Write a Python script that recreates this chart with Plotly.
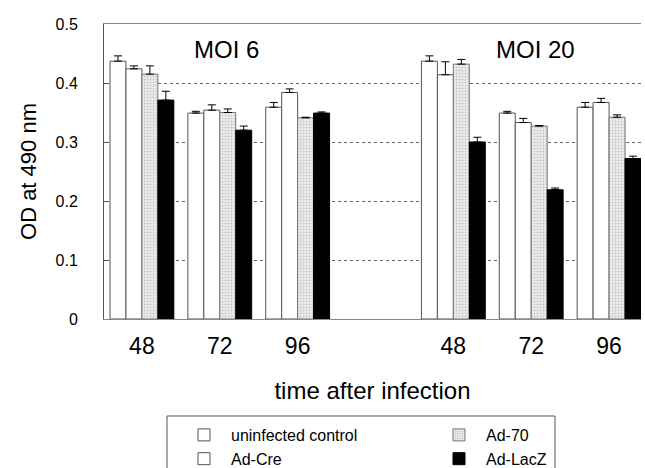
import plotly.graph_objects as go

# Category slots: MOI 6 at 48/72/96 h, then a blank slot, MOI 20 at 48/72/96 h
x_pos = [0, 1, 2, 4, 5, 6]
tick_labels = ["48", "72", "96", "48", "72", "96"]

series_names = ["uninfected control", "Ad-Cre", "Ad-70", "Ad-LacZ"]
uninfected = [0.437, 0.349, 0.359, 0.437, 0.349, 0.359]
ad_cre     = [0.424, 0.354, 0.384, 0.414, 0.333, 0.367]
ad_70      = [0.415, 0.350, 0.341, 0.432, 0.327, 0.342]
ad_lacz    = [0.371, 0.320, 0.349, 0.300, 0.219, 0.272]

err_uninfected = [0.009, 0.003, 0.008, 0.009, 0.003, 0.008]
err_ad_cre     = [0.005, 0.009, 0.006, 0.022, 0.007, 0.007]
err_ad_70      = [0.014, 0.006, 0.001, 0.008, 0.001, 0.004]
err_ad_lacz    = [0.015, 0.007, 0.002, 0.008, 0.003, 0.004]

values = [uninfected, ad_cre, ad_70, ad_lacz]
errors = [err_uninfected, err_ad_cre, err_ad_70, err_ad_lacz]
legend_ranks = [1, 3, 2, 4]

styles = [
    dict(color="white", line=dict(color="#555555", width=1)),
    dict(color="white", line=dict(color="#555555", width=1)),
    dict(color="#e6e6e6", line=dict(color="#777777", width=1),
         pattern=dict(shape=".", size=3, solidity=0.35, fgcolor="#a0a0a0", bgcolor="#ededed")),
    dict(color="black", line=dict(color="black", width=1)),
]

FONT = "Liberation Sans, Arial, Helvetica, sans-serif"

fig = go.Figure()
for name, vals, errs, st, rk in zip(series_names, values, errors, styles, legend_ranks):
    fig.add_trace(go.Bar(
        x=x_pos, y=vals, name=name, marker=st, legendrank=rk,
        error_y=dict(type="data", symmetric=False, array=errs,
                     arrayminus=[0] * len(errs), color="black", thickness=1, width=4),
    ))

fig.add_annotation(x=1.08, y=0.456, text="MOI 6", showarrow=False,
                   font=dict(size=24, color="black", family=FONT))
fig.add_annotation(x=5.05, y=0.456, text="MOI 20", showarrow=False,
                   font=dict(size=24, color="black", family=FONT))

# legend frame
fig.add_shape(type="rect", xref="paper", yref="paper",
              x0=0.1173, x1=0.8399, y0=-0.62, y1=-0.3288,
              line=dict(color="#555555", width=1), fillcolor="rgba(0,0,0,0)", layer="above")

fig.update_layout(
    width=645, height=468,
    margin=dict(l=104, r=4, t=24, b=149, autoexpand=False),
    paper_bgcolor="white", plot_bgcolor="white",
    font=dict(family=FONT, color="black"),
    barmode="group", bargap=0.18, bargroupgap=0,
    showlegend=True,
    legend=dict(
        orientation="h", x=0.1173, y=-0.3356, xanchor="left", yanchor="top",
        entrywidth=186, entrywidthmode="pixels", indentation=10, itemwidth=44,
        borderwidth=0, bgcolor="rgba(0,0,0,0)",
        font=dict(size=16, family=FONT, color="black"),
        traceorder="normal",
    ),
    xaxis=dict(
        range=[-0.487, 6.41], tickvals=x_pos, ticktext=tick_labels,
        tickfont=dict(size=23, family=FONT), ticks="", showgrid=False,
        showline=True, linecolor="#888888", linewidth=1, mirror=True,
        zeroline=False, ticklabelstandoff=6,
        title=dict(text="time after infection", font=dict(size=24, family=FONT), standoff=24),
    ),
    yaxis=dict(
        range=[0, 0.5], tickvals=[0, 0.1, 0.2, 0.3, 0.4, 0.5],
        ticktext=["0", "0.1", "0.2", "0.3", "0.4", "0.5"],
        tickfont=dict(size=16, family=FONT), ticks="inside", ticklen=5,
        tickcolor="#555555",
        showgrid=True, gridcolor="#666666", griddash="dot", gridwidth=1,
        showline=True, linecolor="#555555", linewidth=1, zeroline=False,
        ticklabelstandoff=22,
        title=dict(text="OD at 490 nm", font=dict(size=22, family=FONT), standoff=12),
    ),
)

fig.write_html("out.html", config={"displayModeBar": False},
               post_script="document.body.style.margin='0px';")
